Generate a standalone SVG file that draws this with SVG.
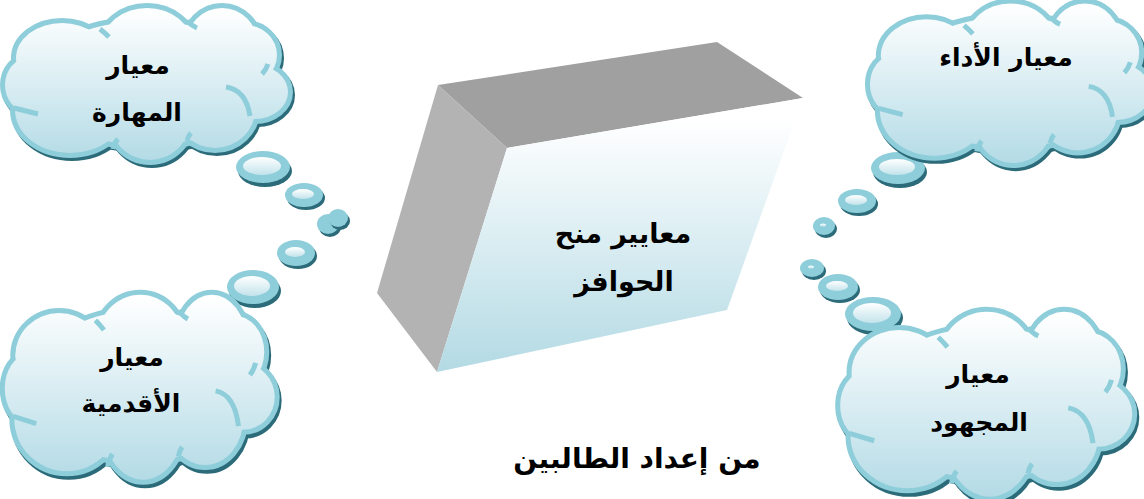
<svg xmlns="http://www.w3.org/2000/svg" xmlns:xlink="http://www.w3.org/1999/xlink" width="1144" height="499" viewBox="0 0 1144 499">
<style>
.lbl{font-family:"DejaVu Sans",sans-serif;font-weight:bold;fill:#000;text-anchor:middle;direction:rtl}
.c-sh{fill:#2c6b79;stroke:#2c6b79;stroke-width:10}
.c-rim{fill:#8ecdda;stroke:#8ecdda;stroke-width:10}
.c-fill{fill:url(#cloudGrad);stroke:none}
.c-in{fill:none;stroke:#8ecdda;stroke-width:5}
.b-sh{fill:#2c6b79}
.b-rim{fill:#8ecdda}
.b-in{fill:url(#bubGrad)}
</style>
<defs>
<linearGradient id="cloudGrad" gradientUnits="userSpaceOnUse" x1="0" y1="10" x2="0" y2="160">
<stop offset="0" stop-color="#ffffff"/>
<stop offset="1" stop-color="#b4dbe6"/>
</linearGradient>
<linearGradient id="bubGrad" x1="0" y1="0" x2="0" y2="1">
<stop offset="0" stop-color="#ffffff"/>
<stop offset="1" stop-color="#c2e3eb"/>
</linearGradient>
<linearGradient id="boxGrad" gradientUnits="userSpaceOnUse" x1="0" y1="120" x2="0" y2="372">
<stop offset="0" stop-color="#ffffff"/>
<stop offset="1" stop-color="#b3dae4"/>
</linearGradient>
<g id="cloudEll">
<ellipse cx="28" cy="85" rx="23" ry="27" vector-effect="non-scaling-stroke"/>
<ellipse cx="62" cy="58" rx="46" ry="35" vector-effect="non-scaling-stroke"/>
<ellipse cx="147" cy="45" rx="45" ry="37" vector-effect="non-scaling-stroke"/>
<ellipse cx="222" cy="45" rx="36" ry="37" vector-effect="non-scaling-stroke"/>
<ellipse cx="245" cy="55" rx="32" ry="30" vector-effect="non-scaling-stroke"/>
<ellipse cx="255" cy="92" rx="33" ry="27" vector-effect="non-scaling-stroke"/>
<ellipse cx="215" cy="110" rx="40" ry="38" vector-effect="non-scaling-stroke"/>
<ellipse cx="150" cy="115" rx="42" ry="45" vector-effect="non-scaling-stroke"/>
<ellipse cx="70" cy="110" rx="55" ry="43" vector-effect="non-scaling-stroke"/>
<ellipse cx="147" cy="83" rx="116" ry="62" vector-effect="non-scaling-stroke"/>
</g>
<g id="cloudInner">
<path d="M226,87 Q246,90 250,116" vector-effect="non-scaling-stroke"/>
<path d="M14,108 Q26,111 38,114" vector-effect="non-scaling-stroke"/>
<path d="M100,29 Q105,33 109,37" vector-effect="non-scaling-stroke"/>
<path d="M187,21 Q192,26 197,28" vector-effect="non-scaling-stroke"/>
<path d="M262,74 Q266,70 268,64" vector-effect="non-scaling-stroke"/>
<path d="M113,149 Q114,143 118,139" vector-effect="non-scaling-stroke"/>
<path d="M187,141 Q188,136 191,133" vector-effect="non-scaling-stroke"/>
</g>
<g id="cloud">
<use xlink:href="#cloudEll" class="c-sh" transform="translate(2,3)"/>
<use xlink:href="#cloudEll" class="c-rim"/>
<use xlink:href="#cloudEll" class="c-fill"/>
<use xlink:href="#cloudInner" class="c-in"/>
</g>
</defs>
<rect width="1144" height="499" fill="#ffffff"/>

<g id="connectors">
<g id="trail-left">
<ellipse class="b-sh" cx="265" cy="171" rx="27" ry="16"/><ellipse class="b-rim" cx="263" cy="167" rx="27" ry="16"/><ellipse class="b-in" cx="262" cy="166" rx="19" ry="9"/>
<ellipse class="b-sh" cx="306" cy="198" rx="19" ry="12"/><ellipse class="b-rim" cx="304" cy="195" rx="19" ry="12"/><ellipse class="b-in" cx="303" cy="194" rx="11" ry="5"/>
<ellipse class="b-sh" cx="330" cy="227" rx="11" ry="10"/><ellipse class="b-rim" cx="328" cy="224" rx="11" ry="10"/>
<ellipse class="b-sh" cx="340" cy="221" rx="10" ry="9"/><ellipse class="b-rim" cx="338" cy="218" rx="10" ry="9"/>
<ellipse class="b-sh" cx="298" cy="256" rx="19" ry="13"/><ellipse class="b-rim" cx="296" cy="253" rx="19" ry="13"/><ellipse class="b-in" cx="295" cy="252" rx="10" ry="5"/>
<ellipse class="b-sh" cx="255" cy="291" rx="26" ry="17"/><ellipse class="b-rim" cx="253" cy="287" rx="26" ry="17"/><ellipse class="b-in" cx="252" cy="286" rx="18" ry="10"/>
</g>
<g id="trail-right">
<ellipse class="b-sh" cx="900" cy="172" rx="27" ry="16"/><ellipse class="b-rim" cx="898" cy="168" rx="27" ry="16"/><ellipse class="b-in" cx="897" cy="167" rx="18" ry="8"/>
<ellipse class="b-sh" cx="859" cy="204" rx="19" ry="12"/><ellipse class="b-rim" cx="857" cy="201" rx="19" ry="12"/><ellipse class="b-in" cx="856" cy="200" rx="11" ry="5"/>
<ellipse class="b-sh" cx="826" cy="229" rx="11" ry="9"/><ellipse class="b-rim" cx="824" cy="226" rx="11" ry="9"/><ellipse class="b-in" cx="823" cy="225" rx="3" ry="1.5"/>
<ellipse class="b-sh" cx="814" cy="271" rx="12" ry="9"/><ellipse class="b-rim" cx="812" cy="268" rx="12" ry="9"/><ellipse class="b-in" cx="811" cy="267" rx="3" ry="1.5"/>
<ellipse class="b-sh" cx="840" cy="290" rx="20" ry="13"/><ellipse class="b-rim" cx="838" cy="287" rx="20" ry="13"/><ellipse class="b-in" cx="837" cy="286" rx="11" ry="5"/>
<ellipse class="b-sh" cx="875" cy="318" rx="28" ry="17"/><ellipse class="b-rim" cx="873" cy="314" rx="28" ry="17"/><ellipse class="b-in" cx="872" cy="313" rx="19" ry="10"/>
</g>
</g>

<g id="box">
<polygon points="438,85 717,42 803,98 507,148" fill="#a0a0a0"/>
<polygon points="438,85 507,148 437,372 377,293" fill="#b3b3b3"/>
<polygon points="507,148 803,98 727,310 437,372" fill="url(#boxGrad)"/>
<text class="lbl" x="623" y="243" font-size="27">معايير منح</text>
<text class="lbl" x="624" y="291" font-size="27">الحوافز</text>
</g>

<g id="node-maharah">
<use xlink:href="#cloud"/>
<text class="lbl" x="138" y="74" font-size="25">معيار</text>
<text class="lbl" x="137" y="121" font-size="25">المهارة</text>
</g>

<g id="node-adaa">
<use xlink:href="#cloud" transform="translate(865,-5) scale(0.99,1.05)"/>
<text class="lbl" x="1006" y="66" font-size="25">معيار الأداء</text>
</g>

<g id="node-aqdamiya">
<use xlink:href="#cloud" transform="translate(0,285) scale(0.954,1.217)"/>
<text class="lbl" x="132" y="366" font-size="25">معيار</text>
<text class="lbl" x="131" y="412" font-size="25">الأقدمية</text>
</g>

<g id="node-majhud">
<use xlink:href="#cloud" transform="translate(835,302) scale(1.032,1.217)"/>
<text class="lbl" x="978" y="383" font-size="25">معيار</text>
<text class="lbl" x="979" y="431" font-size="25">المجهود</text>
</g>

<g id="credit">
<text class="lbl" x="637" y="468" font-size="28">من إعداد الطالبين</text>
</g>
</svg>
